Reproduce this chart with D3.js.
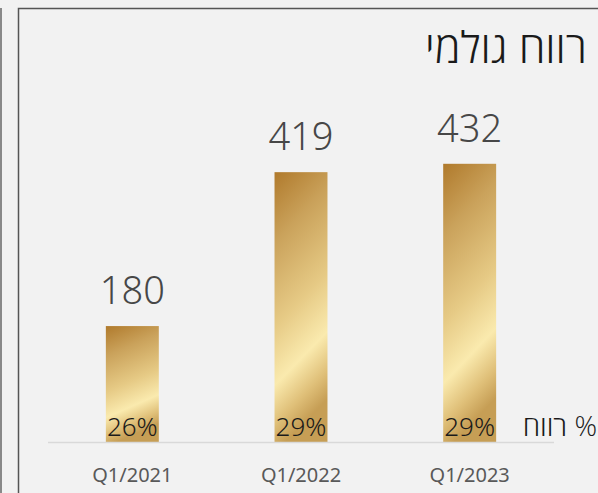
<!DOCTYPE html>
<html>
<head>
<meta charset="utf-8">
<script src="https://cdn.jsdelivr.net/npm/d3@7"></script>
<style>
  body { margin: 0; background: #f2f2f2; }
  svg { display: block; }
</style>
</head>
<body>
<div id="chart"></div>
<script>
var quarters = ["Q1/2021", "Q1/2022", "Q1/2023"];
var grossProfit = [180, 419, 432];
var marginPct = ["26%", "29%", "29%"];
var chartTitle = "רווח גולמי";
var marginLabel = "רווח %";

var width = 598, height = 493;

var svg = d3.select("#chart").append("svg")
    .attr("width", width)
    .attr("height", height);

svg.append("rect")
    .attr("width", width)
    .attr("height", height)
    .attr("fill", "#f2f2f2");

// frame lines
svg.append("line")
    .attr("x1", 1).attr("x2", 1).attr("y1", 8).attr("y2", height)
    .attr("stroke", "#666").attr("stroke-width", 1.5);
svg.append("path")
    .attr("d", "M18.5," + height + "V8.5H" + width)
    .attr("fill", "none")
    .attr("stroke", "#555").attr("stroke-width", 1.5);

var defs = svg.append("defs");
var grad = defs.append("linearGradient")
    .attr("id", "gold")
    .attr("x1", 0).attr("y1", 0)
    .attr("x2", 0.2).attr("y2", 1);
grad.append("stop").attr("offset", "0%").attr("stop-color", "#b07a2c");
grad.append("stop").attr("offset", "25%").attr("stop-color", "#caa25b");
grad.append("stop").attr("offset", "55%").attr("stop-color", "#e6ca85");
grad.append("stop").attr("offset", "76%").attr("stop-color", "#faeaae");
grad.append("stop").attr("offset", "90%").attr("stop-color", "#dfbf78");
grad.append("stop").attr("offset", "100%").attr("stop-color", "#c69e55");

var x = d3.scaleBand()
    .domain(quarters)
    .range([48, 554])
    .paddingInner(0.686)
    .paddingOuter(0.343);

var y = d3.scaleLinear()
    .domain([0, 500])
    .range([442, 120]);

svg.selectAll(".bar")
    .data(grossProfit)
    .enter().append("rect")
      .attr("class", "bar")
      .attr("x", function(d, i) { return x(quarters[i]); })
      .attr("y", function(d) { return y(d); })
      .attr("width", x.bandwidth())
      .attr("height", function(d) { return y(0) - y(d); })
      .attr("fill", "url(#gold)");

// baseline
svg.append("line")
    .attr("x1", x.range()[0]).attr("x2", x.range()[1])
    .attr("y1", y(0) + 0.5).attr("y2", y(0) + 0.5)
    .attr("stroke", "#d9d9d9").attr("stroke-width", 1.5);

var numFont = "'Noto Sans', 'Open Sans', sans-serif";
var hebFont = "'Open Sans', 'DejaVu Sans', sans-serif";

svg.selectAll(".value")
    .data(grossProfit)
    .enter().append("text")
      .attr("class", "value")
      .attr("x", function(d, i) { return x(quarters[i]) + x.bandwidth() / 2; })
      .attr("y", function(d) { return y(d) - 22; })
      .attr("text-anchor", "middle")
      .style("font-family", numFont)
      .style("font-size", "38px")
      .style("font-weight", 300)
      .style("fill", "#474747")
      .text(function(d) { return d; });

svg.selectAll(".pct")
    .data(marginPct)
    .enter().append("text")
      .attr("class", "pct")
      .attr("x", function(d, i) { return x(quarters[i]) + x.bandwidth() / 2; })
      .attr("y", 436)
      .attr("text-anchor", "middle")
      .style("font-family", numFont)
      .style("font-size", "26px")
      .style("font-weight", 300)
      .style("fill", "#1a1a1a")
      .text(function(d) { return d; });

svg.append("g")
    .attr("transform", "translate(0," + y(0) + ")")
    .call(d3.axisBottom(x).tickSize(0).tickPadding(26))
    .call(function(g) { g.select(".domain").remove(); })
    .selectAll("text")
      .style("font-family", numFont)
      .style("font-size", "20px")
      .style("fill", "#595959");

svg.append("text")
    .attr("x", 587)
    .attr("y", 63)
    .attr("text-anchor", "end")
    .style("font-family", hebFont)
    .style("font-size", "43px")
    .style("font-weight", 300)
    .style("fill", "#1a1a1a")
    .text(chartTitle);

svg.append("text")
    .attr("x", 597)
    .attr("y", 436)
    .attr("text-anchor", "end")
    .style("font-family", hebFont)
    .style("font-size", "28px")
    .style("font-weight", 300)
    .style("fill", "#1a1a1a")
    .text(marginLabel);
</script>
</body>
</html>
